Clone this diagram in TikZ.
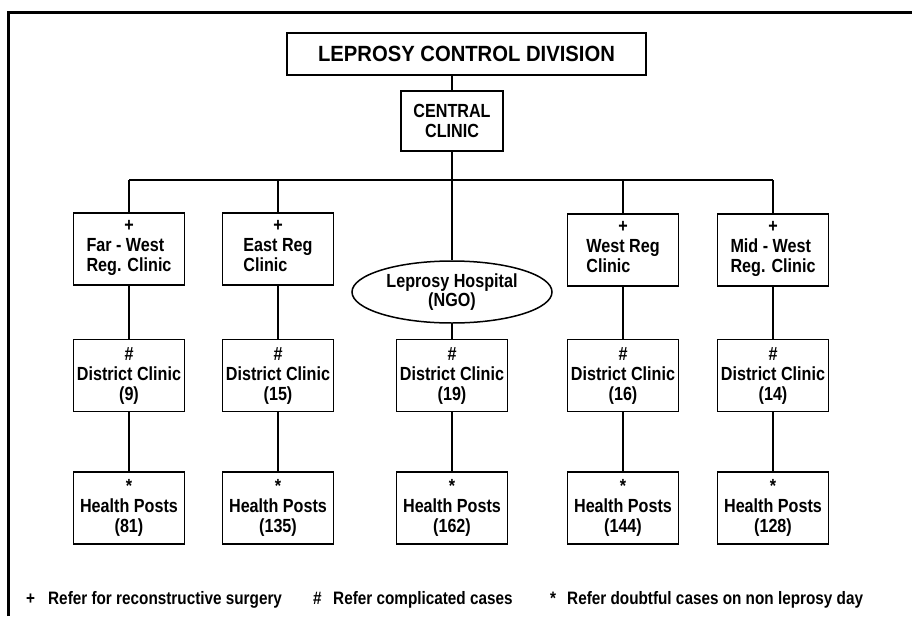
\documentclass[tikz,border=0pt]{standalone}
\usepackage{fontspec}
\setmainfont{Liberation Sans}[FakeStretch=0.85]
\newfontfamily\titlefont{Liberation Sans}[FakeStretch=0.92]
\usetikzlibrary{shapes.geometric}
\begin{document}
\begin{tikzpicture}[x=1pt,y=-1pt,
  boxfont/.style={font=\bfseries\fontsize{19}{20}\selectfont},
  unitbox/.style={draw, line width=1.5pt, minimum width=111pt, minimum height=72pt,
    inner sep=0pt, align=center, boxfont},
  link/.style={line width=1.4pt},
  legend/.style={font=\bfseries\fontsize{18}{20}\selectfont, inner sep=0pt, anchor=base west}]
\useasboundingbox (0,0) rectangle (912,616);
\fill[white] (0,0) rectangle (912,616);
% frame
\draw[line width=3pt] (8,616) -- (8,12) -- (912,12);
% top
\node[draw, line width=1.2pt, minimum width=359pt, minimum height=42pt, inner sep=0pt,
  font=\titlefont\bfseries\fontsize{22}{24}\selectfont] (title) at (466.5,54) {LEPROSY CONTROL DIVISION};
\node[unitbox, line width=2.6pt, minimum width=102pt, minimum height=60pt] (central) at (452,121) {CENTRAL\\CLINIC};
\coordinate (bar) at (452,180);
% regional row
\node[unitbox] (r1) at (129,249) {+\\\begin{tabular}[t]{@{}l@{}}Far - West\\Reg. Clinic\end{tabular}};
\node[unitbox] (r2) at (278,249) {+\\\begin{tabular}[t]{@{}l@{}}East Reg\\Clinic\end{tabular}};
\node[draw, ellipse, line width=1.5pt, minimum width=200pt, minimum height=62pt, inner sep=0pt,
  align=center, font=\bfseries\fontsize{19}{17}\selectfont] (hosp) at (452,292) {Leprosy Hospital\\(NGO)};
\node[unitbox] (r4) at (623,250) {+\\\begin{tabular}[t]{@{}l@{}}West Reg\\Clinic\end{tabular}};
\node[unitbox] (r5) at (773,250) {+\\\begin{tabular}[t]{@{}l@{}}Mid - West\\Reg. Clinic\end{tabular}};
% district row
\node[unitbox] (d1) at (129,375.5) {\#\\District Clinic\\(9)};
\node[unitbox] (d2) at (278,375.5) {\#\\District Clinic\\(15)};
\node[unitbox] (d3) at (452,375.5) {\#\\District Clinic\\(19)};
\node[unitbox] (d4) at (623,375.5) {\#\\District Clinic\\(16)};
\node[unitbox] (d5) at (773,375.5) {\#\\District Clinic\\(14)};
% health posts row
\node[unitbox] (h1) at (129,508) {*\\Health Posts\\(81)};
\node[unitbox] (h2) at (278,508) {*\\Health Posts\\(135)};
\node[unitbox] (h3) at (452,508) {*\\Health Posts\\(162)};
\node[unitbox] (h4) at (623,508) {*\\Health Posts\\(144)};
\node[unitbox] (h5) at (773,508) {*\\Health Posts\\(128)};
% connectors
\draw[link] (title.south -| central.north) -- (central.north);
\draw[link] (central.south) -- (bar);
\draw[link] (bar -| r1.north) -- (bar -| r5.north);
\foreach \n in {r1,r2,r4,r5} \draw[link] (bar -| \n.north) -- (\n.north);
\draw[link] (bar) -- (hosp.north);
\draw[link] (r1) -- (d1); \draw[link] (r2) -- (d2); \draw[link] (hosp) -- (d3);
\draw[link] (r4) -- (d4); \draw[link] (r5) -- (d5);
\draw[link] (d1) -- (h1); \draw[link] (d2) -- (h2); \draw[link] (d3) -- (h3);
\draw[link] (d4) -- (h4); \draw[link] (d5) -- (h5);
% legend
\node[legend] (lp) at (26,604) {+};
\node[legend] (lt1) at (48,604) {Refer for reconstructive surgery};
\node[legend] (lh) at (313,604) {\#};
\node[legend] (lt2) at (333,604) {Refer complicated cases};
\node[legend] (ls) at (550,604) {*};
\node[legend] (lt3) at (567,604) {Refer doubtful cases on non leprosy day};
\end{tikzpicture}
\end{document}
